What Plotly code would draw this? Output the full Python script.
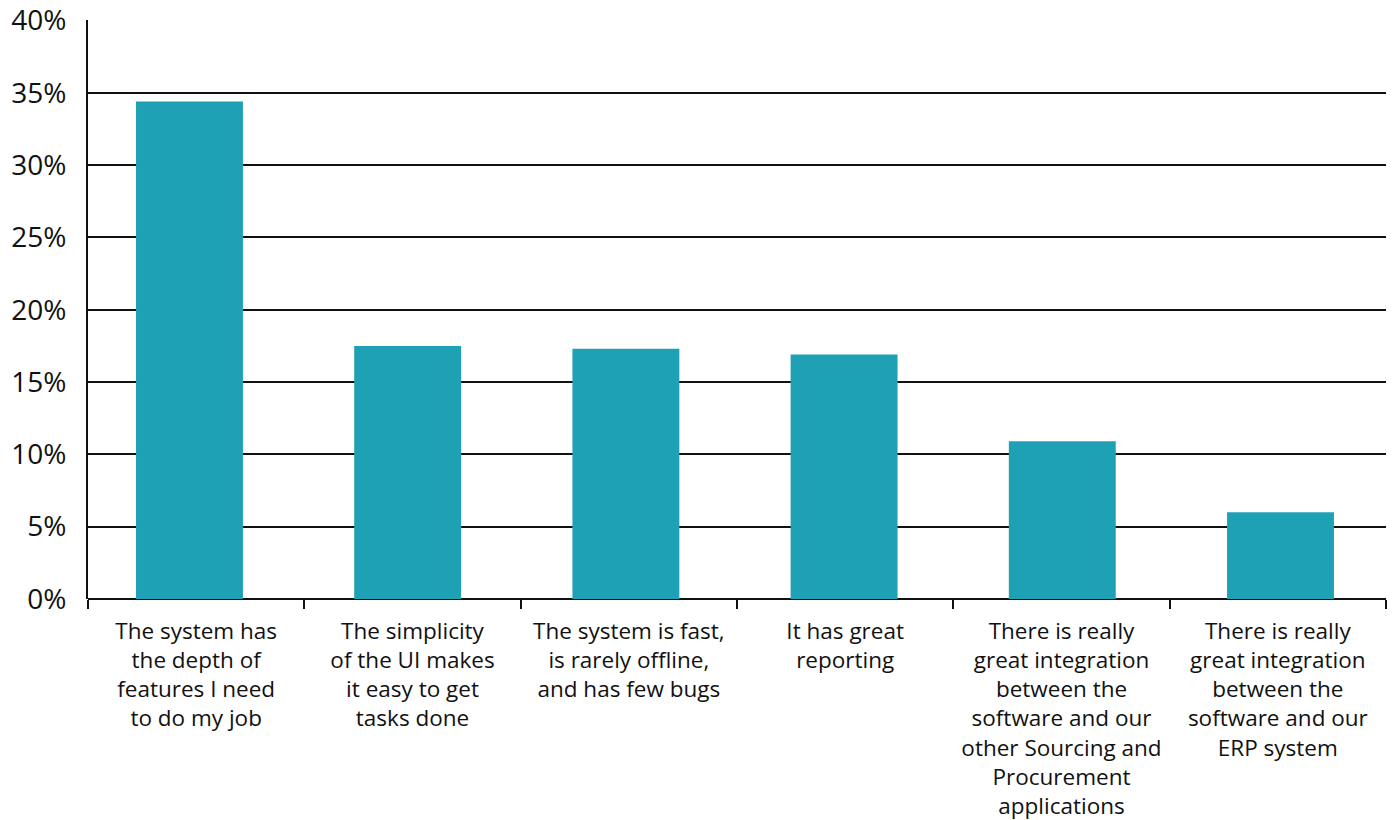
import plotly.graph_objects as go

categories = [
    "The system has<br>the depth of<br>features I need<br>to do my job",
    "The simplicity<br>of the UI makes<br>it easy to get<br>tasks done",
    "The system is fast,<br>is rarely offline,<br>and has few bugs",
    "It has great<br>reporting",
    "There is really<br>great integration<br>between the<br>software and our<br>other Sourcing and<br>Procurement<br>applications",
    "There is really<br>great integration<br>between the<br>software and our<br>ERP system",
]
shares = [34.4, 17.5, 17.3, 16.9, 10.9, 6.0]
y_ticks = [0, 5, 10, 15, 20, 25, 30, 35, 40]

ink = "#111111"
fig = go.Figure()

# bars on their own category axis (slightly wider spacing than the label axis)
fig.add_trace(
    go.Bar(
        x=categories,
        y=shares,
        marker=dict(color="#1FA1B5", line=dict(width=0)),
        xaxis="x",
        yaxis="y",
    )
)
# invisible carrier trace so the label axis gets its categories
fig.add_trace(
    go.Scatter(
        x=categories,
        y=shares,
        mode="markers",
        marker=dict(opacity=0),
        hoverinfo="skip",
        xaxis="x2",
        yaxis="y",
    )
)

fig.update_layout(
    width=1392,
    height=820,
    margin=dict(l=88, r=6, t=20, b=221),
    paper_bgcolor="white",
    plot_bgcolor="white",
    bargap=0.51,
    showlegend=False,
    font=dict(family="Open Sans, sans-serif", color=ink),
    xaxis=dict(
        type="category",
        range=[-0.465, 5.4835],
        showticklabels=False,
        ticks="",
        showgrid=False,
        showline=False,
        zeroline=False,
        automargin=False,
    ),
    xaxis2=dict(
        type="category",
        overlaying="x",
        anchor="y",
        side="bottom",
        range=[-0.5, 5.5],
        tickson="boundaries",
        ticks="outside",
        ticklen=9,
        tickwidth=2,
        tickcolor=ink,
        showline=False,
        showgrid=False,
        zeroline=False,
        tickfont=dict(size=22.5, family="Open Sans, sans-serif", color=ink),
        ticklabelstandoff=16,
        automargin=False,
    ),
    yaxis=dict(
        range=[0, 40.03],
        tickvals=y_ticks,
        ticktext=[f"{v}%" for v in y_ticks],
        showgrid=True,
        gridcolor=ink,
        gridwidth=2,
        zeroline=True,
        zerolinecolor=ink,
        zerolinewidth=2,
        showline=True,
        linecolor=ink,
        linewidth=2,
        ticks="",
        tickfont=dict(size=28, family="Open Sans, sans-serif", color=ink),
        ticklabelstandoff=14,
        automargin=False,
    ),
)

fig.write_html("out.html")
